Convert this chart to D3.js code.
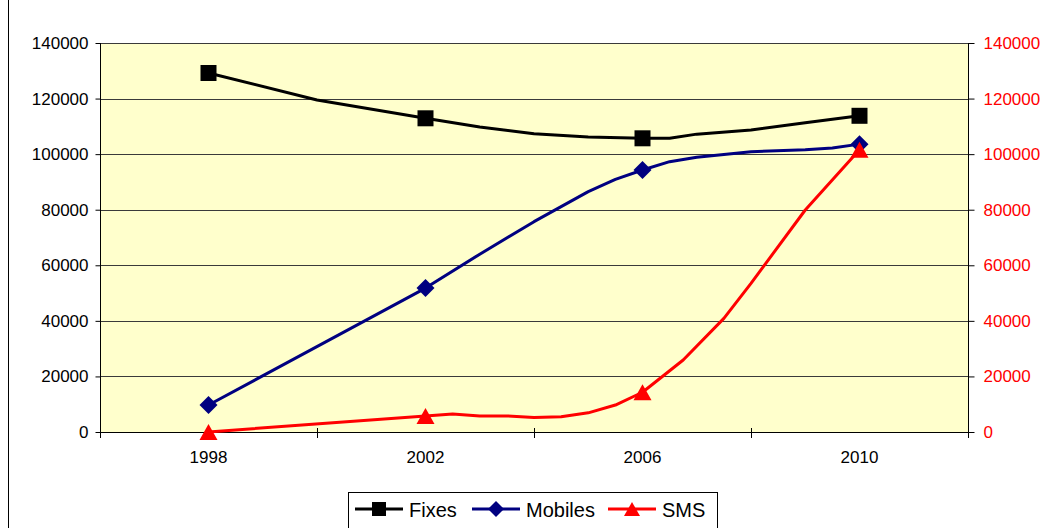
<!DOCTYPE html>
<html>
<head>
<meta charset="utf-8">
<script src="https://cdn.jsdelivr.net/npm/d3@7"></script>
<style>
  html, body { margin: 0; padding: 0; background: #fff; }
  svg { display: block; font-family: "Liberation Sans", Arial, sans-serif; }
</style>
</head>
<body>
<svg id="chart" width="1047" height="528"></svg>
<script>
// Subscriber counts per series, as [year, value] pairs
const fixesPoints = [
  [1998, 129200], [2000, 119500], [2002, 112900], [2003, 109800], [2004, 107300],
  [2005, 106200], [2006, 105700], [2006.5, 105700], [2007, 107200], [2008, 108700],
  [2009, 111300], [2010, 113800]
];
const mobilesPoints = [
  [1998, 9700], [2002, 51800], [2003, 64000], [2004, 75700], [2005, 86500],
  [2005.5, 90900], [2006, 94300], [2006.5, 97300], [2007, 98900], [2008, 100900],
  [2009, 101600], [2009.5, 102200], [2010, 103600]
];
const smsPoints = [
  [1998, 0], [2002, 5800], [2002.5, 6500], [2003, 5800], [2003.5, 5800],
  [2004, 5200], [2004.5, 5500], [2005, 6900], [2005.5, 9700], [2006, 14300],
  [2006.75, 25900], [2007.5, 40900], [2008, 53500], [2009, 79900], [2010, 101600]
];
const markerYears = [1998, 2002, 2006, 2010];
const categoryLabels = ["1998", "2002", "2006", "2010"];
const yTicks = [0, 20000, 40000, 60000, 80000, 100000, 120000, 140000];
const boundaryYears = [1996, 2000, 2004, 2008, 2012];

const series = [
  { name: "Fixes",   points: fixesPoints,   color: "#000000", marker: "square" },
  { name: "Mobiles", points: mobilesPoints, color: "#000080", marker: "diamond" },
  { name: "SMS",     points: smsPoints,     color: "#FF0000", marker: "triangle" }
];

const svg = d3.select("#chart");
const plot = { left: 100, right: 968, top: 43, bottom: 432 };

const x = d3.scaleLinear().domain([1996, 2012]).range([plot.left, plot.right]);
const y = d3.scaleLinear().domain([0, 140000]).range([plot.bottom, plot.top]);
const y2 = d3.scaleLinear().domain([0, 140000]).range([plot.bottom, plot.top]);

// chart frame edge
svg.append("line")
  .attr("x1", 8.5).attr("x2", 8.5).attr("y1", 0).attr("y2", 528)
  .attr("stroke", "#000").attr("stroke-width", 1);

// plot background
svg.append("rect")
  .attr("x", plot.left).attr("y", plot.top)
  .attr("width", plot.right - plot.left).attr("height", plot.bottom - plot.top)
  .attr("fill", "#FFFFCC");

// horizontal gridlines
svg.append("g").selectAll("line")
  .data(yTicks.filter(d => d > 0))
  .join("line")
  .attr("x1", plot.left).attr("x2", plot.right)
  .attr("y1", d => Math.round(y(d)) + 0.5).attr("y2", d => Math.round(y(d)) + 0.5)
  .attr("stroke", "#3a3a3a").attr("stroke-width", 1);

// left axis
const leftAxis = svg.append("g")
  .attr("transform", `translate(${plot.left + 0.5},0)`)
  .call(d3.axisLeft(y).tickValues(yTicks).tickSize(5).tickPadding(7).tickFormat(d3.format("d")));
leftAxis.selectAll("text").attr("font-size", 17).attr("fill", "#000").attr("font-family", "'Liberation Sans', Arial, sans-serif");
leftAxis.selectAll("line, path").attr("stroke", "#000");
leftAxis.select(".domain").attr("d", `M0,${plot.top}V${plot.bottom}`);

// right axis (SMS)
const rightAxis = svg.append("g")
  .attr("transform", `translate(${plot.right + 0.5},0)`)
  .call(d3.axisRight(y2).tickValues(yTicks).tickSize(6).tickPadding(9).tickFormat(d3.format("d")));
rightAxis.selectAll("text").attr("font-size", 17).attr("fill", "#FF0000").attr("font-family", "'Liberation Sans', Arial, sans-serif");
rightAxis.selectAll("line, path").attr("stroke", "#000");
rightAxis.select(".domain").attr("d", `M0,${plot.top}V${plot.bottom}`);

// bottom axis: boundary ticks crossing the axis line, category labels centred between
const bottom = svg.append("g");
bottom.append("line")
  .attr("x1", plot.left).attr("x2", plot.right)
  .attr("y1", plot.bottom + 0.5).attr("y2", plot.bottom + 0.5)
  .attr("stroke", "#000");
bottom.selectAll("line.tick")
  .data(boundaryYears)
  .join("line").attr("class", "tick")
  .attr("x1", d => Math.round(x(d)) + 0.5).attr("x2", d => Math.round(x(d)) + 0.5)
  .attr("y1", plot.bottom - 4).attr("y2", plot.bottom + 6)
  .attr("stroke", "#000");
bottom.selectAll("text")
  .data(markerYears)
  .join("text")
  .attr("x", d => x(d)).attr("y", 463)
  .attr("text-anchor", "middle").attr("font-size", 17).attr("fill", "#000")
  .text((d, i) => categoryLabels[i]);

// marker shapes
function markerPath(type, size) {
  const h = size / 2;
  if (type === "square") return `M${-h},${-h}H${h}V${h}H${-h}Z`;
  if (type === "diamond") return `M0,${-h - 1}L${h + 1},0L0,${h + 1}L${-h - 1},0Z`;
  return `M0,${-h}L${h + 1},${h}L${-h - 1},${h}Z`;
}

const line = d3.line().x(d => x(d[0])).y(d => y(d[1]));

series.forEach(s => {
  const g = svg.append("g");
  g.append("path")
    .datum(s.points)
    .attr("d", line)
    .attr("fill", "none")
    .attr("stroke", s.color)
    .attr("stroke-width", 3)
    .attr("stroke-linejoin", "round");
  g.selectAll("path.marker")
    .data(s.points.filter(p => markerYears.includes(p[0])))
    .join("path").attr("class", "marker")
    .attr("transform", d => `translate(${x(d[0])},${y(d[1])})`)
    .attr("d", markerPath(s.marker, 16))
    .attr("fill", s.color);
});

// legend
const legend = svg.append("g");
legend.append("rect")
  .attr("x", 348.5).attr("y", 492.5).attr("width", 369).attr("height", 50)
  .attr("fill", "#fff").attr("stroke", "#000");
const legendX = [355, 472, 608];
series.forEach((s, i) => {
  const lx = legendX[i];
  const item = legend.append("g").attr("transform", `translate(${lx},509)`);
  item.append("line").attr("x1", 0).attr("x2", 48).attr("y1", 0).attr("y2", 0)
    .attr("stroke", s.color).attr("stroke-width", 3);
  item.append("path").attr("transform", "translate(24,0)")
    .attr("d", markerPath(s.marker, 14)).attr("fill", s.color);
  item.append("text").attr("x", 54).attr("y", 7.5)
    .attr("font-size", 20).attr("fill", "#000").text(s.name);
});
</script>
</body>
</html>
